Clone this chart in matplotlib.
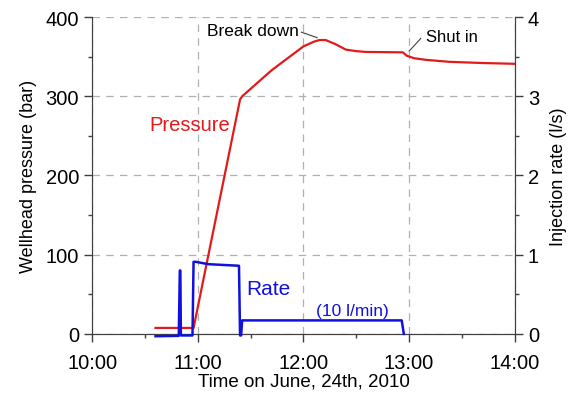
import matplotlib.pyplot as plt
import numpy as np

plt.rcParams["font.family"] = ["Liberation Sans", "DejaVu Sans"]

# time in decimal hours on June 24th, 2010
p_time = [10.60, 10.96, 11.40, 11.42, 11.70, 12.00, 12.10, 12.15, 12.21,
          12.30, 12.40, 12.50, 12.59, 12.94, 12.98, 13.05, 13.16, 13.38, 13.70, 14.00]
p_bar = [7.5, 7.5, 296, 300, 333, 363, 369, 371, 371,
         366, 359, 357, 356, 355.5, 351, 348, 346, 343.5, 342, 341]

r_time = [10.60, 10.82, 10.83, 10.835, 10.84, 10.95, 10.96, 10.98, 11.10,
          11.39, 11.40, 11.41, 11.42, 12.93, 12.95]
r_rate = [-0.03, -0.025, 0.80, 0.80, -0.02, -0.02, 0.91, 0.91, 0.88,
          0.86, -0.02, -0.02, 0.17, 0.17, 0.0]

fig, ax = plt.subplots(figsize=(5.83, 4.02), dpi=100)
fig.subplots_adjust(left=0.158, right=0.883, top=0.955, bottom=0.167)
ax2 = ax.twinx()

ax.plot(p_time, p_bar, color="#e31a1c", lw=1.6, zorder=3)
ax2.plot(r_time, r_rate, color="#1010e0", lw=1.8, zorder=3, clip_on=False)

ax.set_xlim(10, 14)
ax.set_ylim(0, 400)
ax2.set_ylim(0, 4)
ax.set_xticks([10, 11, 12, 13, 14])
ax.set_xticklabels(["10:00", "11:00", "12:00", "13:00", "14:00"])
ax.set_xticks(np.arange(10.5, 14, 1), minor=True)
ax.set_yticks([0, 100, 200, 300, 400])
ax.set_yticks([50, 150, 250, 350], minor=True)
ax2.set_yticks([0, 1, 2, 3, 4])
ax2.set_yticks([0.5, 1.5, 2.5, 3.5], minor=True)

ax.grid(True, which="major", color="#b0b0b0", ls=(0, (6, 5)), lw=0.9)
for a in (ax, ax2):
    a.spines["top"].set_visible(False)
    for s in ("left", "right", "bottom"):
        a.spines[s].set_color("#404040")
    a.tick_params(which="major", length=6, width=1, color="#404040", labelsize=14.5)
    a.tick_params(which="minor", length=3, width=1, color="#404040")
ax.tick_params(axis="x", which="major", pad=8)

ax.set_xlabel("Time on June, 24th, 2010", fontsize=13.5, labelpad=0)
ax.set_ylabel("Wellhead pressure (bar)", fontsize=13, labelpad=6)
ax2.set_ylabel("Injection rate (l/s)", fontsize=13, labelpad=8)

ax.text(10.92, 265, "Pressure", color="#e31a1c", fontsize=14.5, ha="center", va="center")
ax.text(11.46, 57, "Rate", color="#1010e0", fontsize=15, ha="left", va="center")
ax.text(12.46, 29, "(10 l/min)", color="#1010e0", fontsize=12.5, ha="center", va="center")
ax.text(11.96, 383, "Break down", fontsize=12.5, ha="right", va="center")
ax.plot([11.98, 12.13], [381, 374], color="#404040", lw=0.8)
ax.text(13.16, 376, "Shut in", fontsize=12, ha="left", va="center")
ax.plot([13.0, 13.11], [357, 373], color="#404040", lw=0.8)

plt.savefig("out.png", dpi=100)
